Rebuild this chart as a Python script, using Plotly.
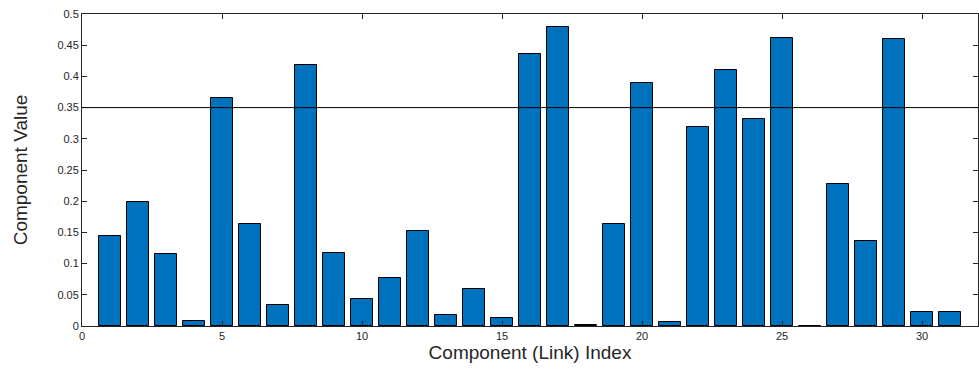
import plotly.graph_objects as go

idx = list(range(1, 32))
values = [0.144, 0.199, 0.115, 0.008, 0.365, 0.163, 0.034, 0.418, 0.117, 0.043,
          0.077, 0.152, 0.018, 0.059, 0.013, 0.436, 0.479, 0.002, 0.163, 0.389,
          0.006, 0.319, 0.410, 0.331, 0.461, 0.0005, 0.228, 0.136, 0.460, 0.022,
          0.022]
threshold = 0.35
xticks = [0, 5, 10, 15, 20, 25, 30]
yticks = [0, 0.05, 0.1, 0.15, 0.2, 0.25, 0.3, 0.35, 0.4, 0.45, 0.5]
yticklabels = ["0", "0.05", "0.1", "0.15", "0.2", "0.25", "0.3", "0.35", "0.4", "0.45", "0.5"]

fig = go.Figure()
fig.add_trace(go.Bar(x=idx, y=values, width=0.8,
                     marker=dict(color="#0072BD", line=dict(color="black", width=1))))
fig.add_shape(type="line", xref="paper", x0=0, x1=1, yref="y", y0=threshold, y1=threshold,
              line=dict(color="black", width=1))

axis_common = dict(showgrid=False, zeroline=False, showline=True, linecolor="#262626",
                   linewidth=1, mirror="ticks", ticks="inside", ticklen=5,
                   tickcolor="#262626", tickwidth=1,
                   tickfont=dict(family="Liberation Sans, Arial", size=11, color="#262626"))
fig.update_xaxes(range=[0, 32], tickvals=xticks, **axis_common,
                 title=dict(text="Component (Link) Index", standoff=2,
                            font=dict(family="Liberation Sans, Arial", size=19, color="#262626")))
fig.update_yaxes(range=[0, 0.5], tickvals=yticks, ticktext=yticklabels, **axis_common,
                 title=dict(text="Component Value", standoff=24,
                            font=dict(family="Liberation Sans, Arial", size=19, color="#262626")))
fig.update_layout(width=979, height=371, margin=dict(l=82, r=1, t=14, b=45),
                  plot_bgcolor="white", paper_bgcolor="white", showlegend=False,
                  bargap=0)
fig.write_html("out.html")
